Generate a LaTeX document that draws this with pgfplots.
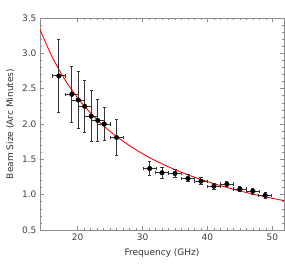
\documentclass[border=0pt]{standalone}
\usepackage{fontspec}
\setmainfont{DejaVu Sans}
\usepackage{pgfplots}
\pgfplotsset{compat=1.18}
\begin{document}
\begin{tikzpicture}
\begin{axis}[
  scale only axis, width=244pt, height=212pt,
  xmin=14.2, xmax=51.8, ymin=0.5, ymax=3.5,
  xtick={20,30,40,50}, minor x tick num=9,
  ytick={0.5,1.0,1.5,2.0,2.5,3.0,3.5}, minor y tick num=4,
  yticklabel style={/pgf/number format/fixed,/pgf/number format/fixed zerofill,/pgf/number format/precision=1},
  /pgf/number format/assume math mode=true,
  tick label style={font=\fontsize{9}{11}\selectfont, text=black!75},
  label style={font=\fontsize{9}{11}\selectfont, text=black!80},
  xlabel={Frequency (GHz)}, ylabel={Beam Size (Arc Minutes)},
  xlabel style={yshift=-1pt}, ylabel style={yshift=1pt},
  axis line style={black!45, line width=0.5pt},
  major tick length=4pt, minor tick length=2pt,
  every tick/.style={black!45, line width=0.5pt},
  tick align=inside,
  clip=true,
]
\addplot[red, line width=0.9pt, smooth] coordinates {
(14.2,3.338)(16,2.963)(18,2.633)(20,2.370)(22,2.155)(24,1.975)(26,1.823)(28,1.693)
(30,1.580)(32,1.481)(34,1.394)(36,1.317)(38,1.247)(40,1.185)(42,1.129)(44,1.077)
(46,1.030)(48,0.988)(50,0.948)(51.8,0.915)};
\addplot[only marks, mark=*, mark size=2.3pt, black,
  error bars/.cd, x dir=both, x explicit, y dir=both, y explicit,
  error bar style={black!80, line width=0.9pt},
  error mark options={rotate=90, mark size=1.6pt, black!80, line width=0.9pt}]
  coordinates {
(17.1,2.68) +- (1.0,0.51)
(19.1,2.42) +- (1.0,0.40)
(20.1,2.34) +- (1.0,0.40)
(21.1,2.25) +- (1.0,0.37)
(22.1,2.11) +- (1.0,0.36)
(23.1,2.05) +- (1.0,0.30)
(24.1,2.00) +- (1.0,0.23)
(26.0,1.81) +- (1.0,0.25)
(31.1,1.37) +- (1.0,0.10)
(33.0,1.31) +- (1.0,0.08)
(35.0,1.30) +- (1.0,0.05)
(37.0,1.23) +- (1.0,0.05)
(39.0,1.19) +- (1.0,0.05)
(41.0,1.12) +- (1.0,0.04)
(43.0,1.15) +- (1.0,0.04)
(45.0,1.08) +- (1.0,0.04)
(47.0,1.05) +- (1.0,0.04)
(48.9,0.99) +- (1.0,0.04)
};
\end{axis}
\path[use as bounding box] (-40pt,-38pt) rectangle (245pt,230pt);
\end{tikzpicture}
\end{document}
